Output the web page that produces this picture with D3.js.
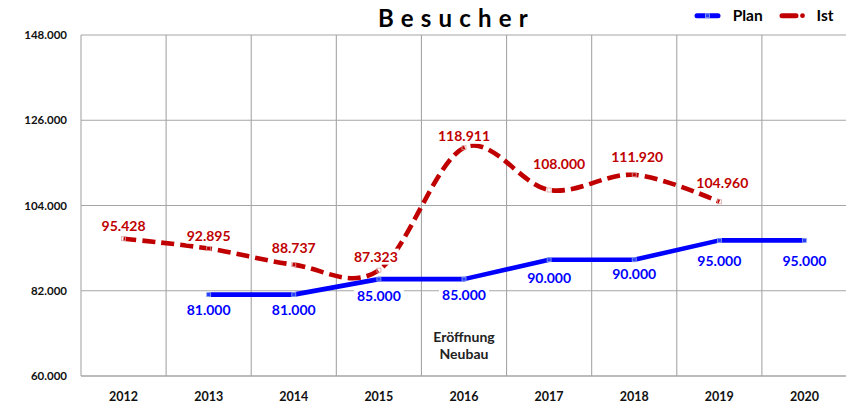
<!DOCTYPE html>
<html>
<head>
<meta charset="utf-8">
<script src="https://cdn.jsdelivr.net/npm/d3@7"></script>
<style>
  html, body { margin: 0; padding: 0; background: #fff; }
  svg { display: block; font-family: Lato, "Open Sans", sans-serif; }
</style>
</head>
<body>
<svg id="chart" width="846" height="406"></svg>
<script>
// ---- data ----
const years = ["2012", "2013", "2014", "2015", "2016", "2017", "2018", "2019", "2020"];
const planValues = [null, 81000, 81000, 85000, 85000, 90000, 90000, 95000, 95000];
const istValues = [95428, 92895, 88737, 87323, 118911, 108000, 111920, 104960, null];
const yTicks = [60000, 82000, 104000, 126000, 148000];
const seriesNames = ["Plan", "Ist"];
const titleText = "Besucher";
const noteLines = ["Eröffnung", "Neubau"];
const noteYear = "2016";

// ---- label placement (annotation layout, px nudges) ----
const istLabelDx = [0, 0, 0, -3, 0, 10, 3, 3, 0];
const istLabelDy = [-13, -13, -17, -13.5, -12, -26, -18, -19, 0];
const planLabelDy = [0, 15, 15, 17, 16, 18.5, 14.6, 21, 21];

const W = 846, H = 406;
const M = { left: 81, right: 847, top: 35, bottom: 376 };
const svg = d3.select("#chart");

const de = d3.formatLocale({ decimal: ",", thousands: ".", grouping: [3], currency: ["", "€"] });
const fmt = de.format(",.0f");

const x = d3.scaleBand().domain(years).range([M.left, M.right]).paddingInner(0).paddingOuter(0);
const y = d3.scaleLinear().domain([60000, 148000]).range([M.bottom, M.top]);
const cx = d => x(d) + x.bandwidth() / 2;

const gridColor = "#a6a6a6";
// horizontal gridlines
svg.append("g").selectAll("line").data(yTicks).join("line")
  .attr("x1", M.left).attr("x2", M.right)
  .attr("y1", d => y(d)).attr("y2", d => y(d))
  .attr("stroke", gridColor).attr("stroke-width", d => d === 60000 ? 1.6 : 1.1);
// vertical gridlines at band edges
svg.append("g").selectAll("line").data(years).join("line")
  .attr("x1", d => x(d)).attr("x2", d => x(d))
  .attr("y1", M.top).attr("y2", M.bottom)
  .attr("stroke", gridColor).attr("stroke-width", 1.1);

// y tick labels
svg.append("g").selectAll("text").data(yTicks).join("text")
  .attr("x", 67).attr("y", d => y(d) + 4.1)
  .attr("text-anchor", "end")
  .attr("font-size", 11.5).attr("font-weight", 700).attr("fill", "#111")
  .text(d => fmt(d));

// x labels
svg.append("g").selectAll("text").data(years).join("text")
  .attr("x", d => cx(d)).attr("y", 400.5)
  .attr("text-anchor", "middle")
  .attr("font-size", 12.5).attr("font-weight", 700).attr("fill", "#111")
  .text(d => d);

// series data
const planPts = years.map((yr, i) => ({ yr, v: planValues[i], i })).filter(d => d.v != null);
const istPts = years.map((yr, i) => ({ yr, v: istValues[i], i })).filter(d => d.v != null);

// plan line
svg.append("path").datum(planPts)
  .attr("d", d3.line().x(d => cx(d.yr)).y(d => y(d.v)))
  .attr("fill", "none").attr("stroke", "#0000ff").attr("stroke-width", 4.6)
  .attr("stroke-linejoin", "round");
svg.append("g").selectAll("rect").data(planPts).join("rect")
  .attr("x", d => cx(d.yr) - 2).attr("y", d => y(d.v) - 2)
  .attr("width", 4).attr("height", 4)
  .attr("fill", "#2a3cff").attr("stroke", "#8fa8e8").attr("stroke-width", 0.8);

// ist line (smoothed, dashed)
svg.append("path").datum(istPts)
  .attr("d", d3.line().x(d => cx(d.yr)).y(d => y(d.v)).curve(d3.curveCardinal.tension(0)))
  .attr("fill", "none").attr("stroke", "#c00000").attr("stroke-width", 4.6)
  .attr("stroke-dasharray", "13,6");
svg.append("g").selectAll("rect").data(istPts).join("rect")
  .attr("x", d => cx(d.yr) - 2).attr("y", d => y(d.v) - 2)
  .attr("width", 4).attr("height", 4)
  .attr("fill", "none").attr("stroke", "#d9a0a0").attr("stroke-width", 0.8);

// labels with white background
function addLabel(g, tx, tyCenter, txt, color, padX) {
  const fs = 14;
  const t = g.append("text")
    .attr("x", tx).attr("y", tyCenter + 0.36 * fs)
    .attr("text-anchor", "middle")
    .attr("font-size", fs).attr("font-weight", 700).attr("fill", color)
    .text(txt);
  const bb = t.node().getBBox();
  g.insert("rect", () => t.node())
    .attr("x", bb.x - padX).attr("y", tyCenter - 8)
    .attr("width", bb.width + 2 * padX).attr("height", 16)
    .attr("fill", "#fff");
}
const lg = svg.append("g");
planPts.forEach(d => addLabel(lg, cx(d.yr), y(d.v) + planLabelDy[d.i], fmt(d.v), "#0000ff", 3));
istPts.forEach(d => addLabel(lg, cx(d.yr) + istLabelDx[d.i], y(d.v) + istLabelDy[d.i], fmt(d.v), "#c00000", 1));

// note
svg.append("g").selectAll("text").data(noteLines).join("text")
  .attr("x", cx(noteYear)).attr("y", (d, i) => 337.3 + i * 16.7 + 4.9)
  .attr("text-anchor", "middle")
  .attr("font-size", 14).attr("font-weight", 700).attr("fill", "#222")
  .text(d => d);

// title
svg.append("text")
  .attr("x", 378).attr("y", 26.7)
  .attr("font-size", 24).attr("font-weight", 700).attr("fill", "#000")
  .style("letter-spacing", "7.2px")
  .text(titleText);

// legend
const leg = svg.append("g");
leg.append("line").attr("x1", 697).attr("x2", 718).attr("y1", 15.7).attr("y2", 15.7)
  .attr("stroke", "#0000ff").attr("stroke-width", 5).attr("stroke-linecap", "round");
leg.append("rect").attr("x", 705.5).attr("y", 13.7).attr("width", 4).attr("height", 4)
  .attr("fill", "#2a3cff").attr("stroke", "#8fa8e8").attr("stroke-width", 0.8);
leg.append("text").attr("x", 732.7).attr("y", 20.9)
  .attr("font-size", 15.5).attr("font-weight", 700).attr("fill", "#000").text(seriesNames[0]);
leg.append("line").attr("x1", 782).attr("x2", 796).attr("y1", 15.7).attr("y2", 15.7)
  .attr("stroke", "#c00000").attr("stroke-width", 5).attr("stroke-linecap", "round");
leg.append("circle").attr("cx", 802.5).attr("cy", 15.7).attr("r", 2.4).attr("fill", "#c00000");
leg.append("text").attr("x", 816.5).attr("y", 20.9)
  .attr("font-size", 15.5).attr("font-weight", 700).attr("fill", "#000").text(seriesNames[1]);
</script>
</body>
</html>
